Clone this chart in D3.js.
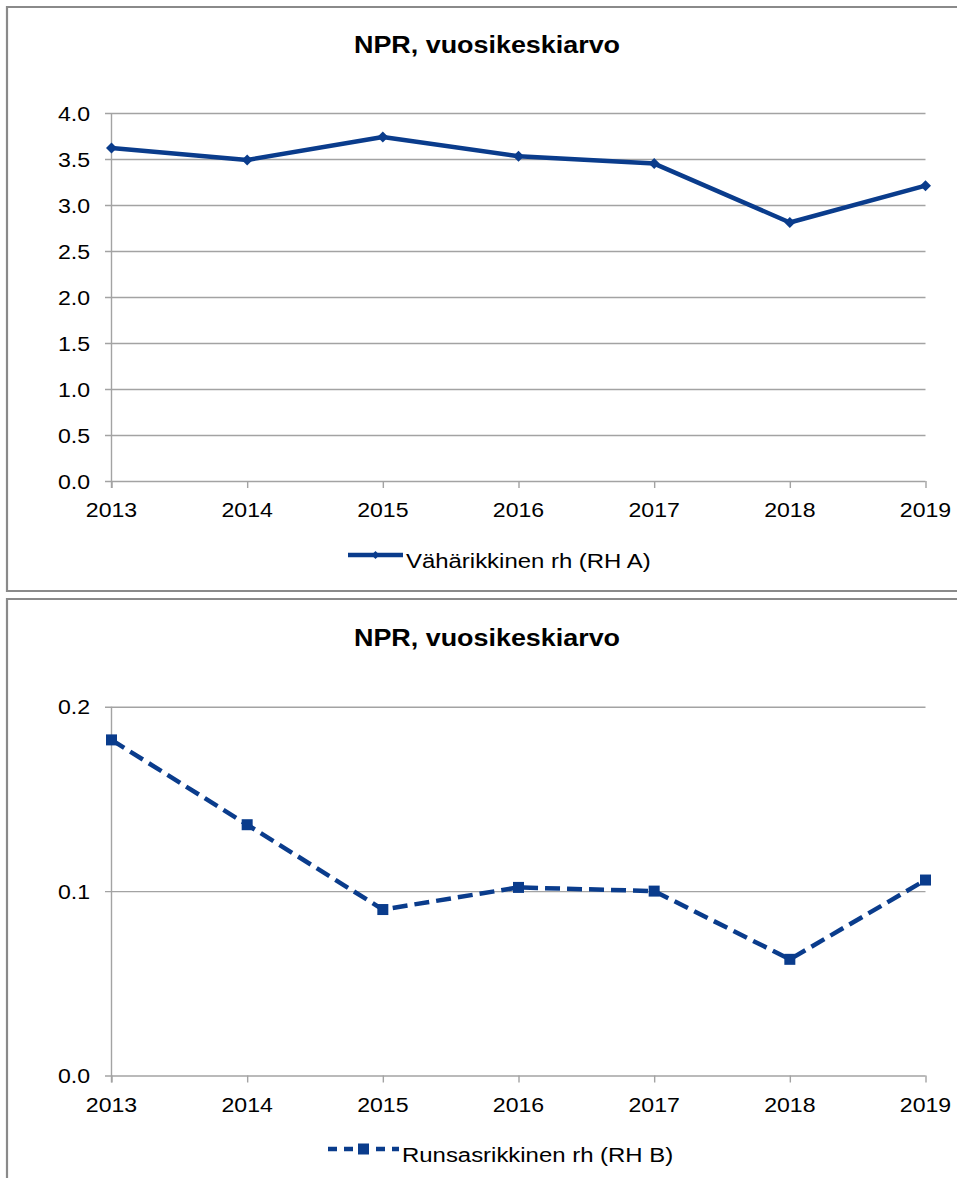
<!DOCTYPE html>
<html><head><meta charset="utf-8">
<script src="https://cdn.jsdelivr.net/npm/d3@7"></script>
<style>body{margin:0;background:#fff}svg{display:block}text{font-family:"Liberation Sans",Arial,sans-serif;fill:#000}</style>
</head><body>
<script>
const years = [2013, 2014, 2015, 2016, 2017, 2018, 2019];
const seriesA = [3.62, 3.49, 3.74, 3.53, 3.45, 2.81, 3.21];
const seriesB = [0.182, 0.136, 0.090, 0.102, 0.100, 0.063, 0.106];
const ticksA = [0, 0.5, 1, 1.5, 2, 2.5, 3, 3.5, 4];
const ticksB = [0, 0.1, 0.2];
const title = "NPR, vuosikeskiarvo";
const nameA = "Vähärikkinen rh (RH A)";
const nameB = "Runsasrikkinen rh (RH B)";

const W = 957, H = 1178, color = "#0a3c8c", grid = "#a3a3a3";
const svg = d3.select("body").append("svg").attr("width", W).attr("height", H);

function txt(g, x, y, s, size, anchor, sx, bold) {
  return g.append("text")
    .attr("transform", `translate(${x},${y}) scale(${sx},1)`)
    .attr("text-anchor", anchor).attr("font-size", size)
    .attr("font-weight", bold ? "bold" : "normal").text(s);
}

function chart(cfg) {
  const g = svg.append("g");
  g.append("path").attr("d", `M${W+5},${cfg.fy0} H7 V${cfg.fy1} H${W+5}`)
    .attr("fill", "none").attr("stroke", "#8a8a8a").attr("stroke-width", 2.2);
  const x = d3.scalePoint().domain(years).range([111.5, 925.5]);
  const y = d3.scaleLinear().domain(cfg.domain).range(cfg.yr);
  const ga = g.append("g").attr("transform", "translate(105,0)")
    .call(d3.axisRight(y).tickValues(cfg.ticks).tickSize(925.5 - 105).tickFormat(""));
  ga.select(".domain").remove();
  ga.selectAll("line").attr("stroke", grid).attr("stroke-width", 1.4);
  g.append("line").attr("x1", 111.5).attr("x2", 111.5).attr("y1", y(cfg.domain[1])).attr("y2", y(0) + 7)
    .attr("stroke", grid).attr("stroke-width", 1.4);
  const gx = g.append("g").attr("transform", `translate(0,${y(0)})`)
    .call(d3.axisBottom(x).tickSize(7).tickSizeOuter(0).tickFormat(""));
  gx.select(".domain").remove();
  gx.selectAll("line").attr("stroke", grid).attr("stroke-width", 1.4);
  cfg.ticks.forEach(t => txt(g, 90, y(t) + 7.5, d3.format(".1f")(t), 21, "end", 1.1));
  years.forEach(yr => txt(g, x(yr), y(0) + 36, String(yr), 21, "middle", 1.1));
  txt(g, 487, cfg.ty, title, 23, "middle", 1.17, true);
  const line = d3.line().x((d, i) => x(years[i])).y(d => y(d));
  const p = g.append("path").datum(cfg.data).attr("d", line).attr("fill", "none")
    .attr("stroke", color).attr("stroke-width", 4.5).attr("stroke-linejoin", "round");
  if (cfg.dash) p.attr("stroke-dasharray", cfg.dash);
  cfg.data.forEach((d, i) => cfg.marker(g, x(years[i]), y(d)));
  const l = g.append("line").attr("x1", cfg.lx0).attr("x2", cfg.lx1).attr("y1", cfg.ly).attr("y2", cfg.ly)
    .attr("stroke", color).attr("stroke-width", 4.5);
  if (cfg.dash) l.attr("stroke-dasharray", cfg.ldash);
  cfg.marker(g, (cfg.lx0 + cfg.lx1) / 2, cfg.ly, true);
  txt(g, cfg.lx1 + 3, cfg.ly + 13, cfg.name, 21, "start", 1.14);
}

const diamond = (g, cx, cy, small) => {
  const r = small ? 4 : 5.5;
  g.append("path").attr("d", `M${cx},${cy - r} L${cx + r},${cy} L${cx},${cy + r} L${cx - r},${cy} Z`).attr("fill", color);
};
const square = (g, cx, cy) => {
  g.append("rect").attr("x", cx - 5.5).attr("y", cy - 5.5).attr("width", 11).attr("height", 11).attr("fill", color);
};

chart({ fy0: 7, fy1: 591, domain: [0, 4], yr: [481, 113], ticks: ticksA, ty: 53, data: seriesA,
  marker: diamond, lx0: 348, lx1: 403, ly: 555, name: nameA });
chart({ fy0: 599, fy1: H + 5, domain: [0, 0.2], yr: [1075.5, 706.7], ticks: ticksB, ty: 646, data: seriesB,
  marker: square, dash: "15,7", ldash: "9,7", lx0: 328, lx1: 399, ly: 1149, name: nameB });
</script>
</body></html>
